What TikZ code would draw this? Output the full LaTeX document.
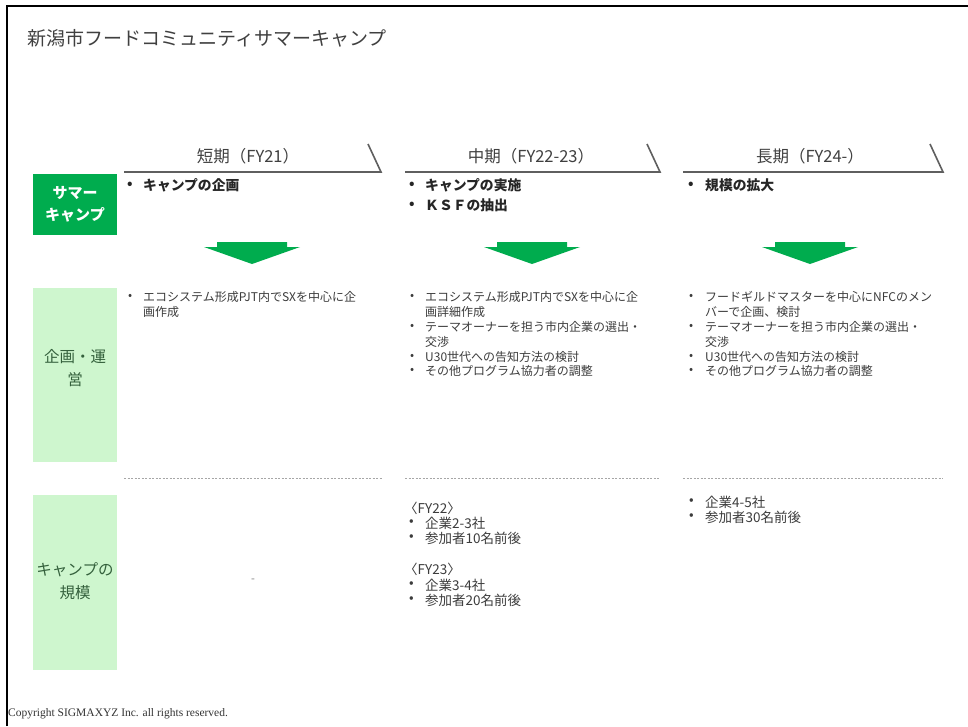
\documentclass[tikz,border=0pt]{standalone}
\usepackage{fontspec}
\newfontfamily\jp{Noto Sans CJK JP}
\newfontfamily\cpy{Liberation Serif}
\definecolor{dgreen}{RGB}{0,172,78}
\definecolor{lgreen}{RGB}{206,246,206}
\definecolor{lgtext}{RGB}{52,96,60}
\definecolor{bodygray}{RGB}{60,60,60}
\definecolor{headgray}{RGB}{64,64,64}
\definecolor{rulegray}{RGB}{95,95,95}
\tikzset{
  body/.style={anchor=west,inner sep=0pt,font=\jp\fontsize{12}{14}\selectfont,text=bodygray},
  scl/.style={anchor=west,inner sep=0pt,font=\jp\fontsize{13.5}{15}\selectfont,text=bodygray},
  bold/.style={anchor=west,inner sep=0pt,font=\jp\bfseries\fontsize{13.8}{15}\selectfont,text=black!85},
  head/.style={inner sep=0pt,font=\jp\fontsize{16.5}{18}\selectfont,text=headgray},
  hrule/.style={draw=rulegray,line width=1.6pt},
  dash rule/.style={draw=gray!70,dashed,line width=0.7pt,dash pattern=on 2pt off 1.5pt},
  darkbox/.style={fill=dgreen,draw=none},
  lightbox/.style={fill=lgreen,draw=none},
  boxtext/.style={inner sep=0pt,align=center,font=\jp\fontsize{15.5}{23}\selectfont,text=lgtext},
  arrowfill/.style={fill=dgreen}
}
\newcommand{\greenarrow}[1]{%
  \fill[arrowfill] (#1-35,242) -- (#1+35,242) -- (#1+35,247) -- (#1+48,247)
    -- (#1,264) -- (#1-48,247) -- (#1-35,247) -- cycle;}
\begin{document}
\begin{tikzpicture}[x=1pt,y=-1pt]
\useasboundingbox (0,0) rectangle (968,726);
\fill[white] (0,0) rectangle (968,726);
% frame
\draw[line width=1.6pt,black] (7,726) -- (7,6) -- (968,6);
% title
\node[anchor=west,inner sep=0pt,font=\jp\fontsize{19}{21}\selectfont,text=headgray] (title) at (27,38) {新潟市フードコミュニティサマーキャンプ};
% headers
\node[head] (h1) at (248,156) {短期（FY21）};
\node[head] (h2) at (531,156) {中期（FY22-23）};
\node[head] (h3) at (810,156) {長期（FY24-）};
\draw[hrule] (124,172) -- (381,172) -- (368,144);
\draw[hrule] (405,172) -- (660,172) -- (647,144);
\draw[hrule] (683,172) -- (943,172) -- (930,144);
% left boxes
\fill[darkbox] (33,174) rectangle (117,235);
\node[boxtext,text=white,font=\jp\bfseries\fontsize{15}{22}\selectfont] (lb1) at (75,204.5) {サマー\\キャンプ};
\fill[lightbox] (33,288) rectangle (117,462);
\node[boxtext] (lb2) at (75,368) {企画・運\\営};
\fill[lightbox] (33,495) rectangle (117,670);
\node[boxtext] (lb3) at (75,581) {キャンプの\\規模};
% bold items
\node[bold] (s1b) at (127,185) {•};
\node[bold] (s1) at (143,185) {キャンプの企画};
\node[bold] (s2b) at (409,185) {•};
\node[bold] (s2) at (425,185) {キャンプの実施};
\node[bold] (s3b) at (409,205) {•};
\node[bold] (s3) at (425,205) {ＫＳＦの抽出};
\node[bold] (s4b) at (688,185) {•};
\node[bold] (s4) at (705,185) {規模の拡大};
% arrows
\greenarrow{252}
\greenarrow{532}
\greenarrow{810}
% planning column 1
\node[body] (p1b) at (128,297) {•};
\node[body] (p1) at (143,297) {エコシステム形成PJT内でSXを中心に企};
\node[body] (p1c) at (143,312) {画作成};
% planning column 2
\node[body] (q1b) at (410,297) {•};
\node[body] (q1) at (425,297) {エコシステム形成PJT内でSXを中心に企};
\node[body] (q1c) at (425,312) {画詳細作成};
\node[body] (q2b) at (410,327) {•};
\node[body] (q2) at (425,327) {テーマオーナーを担う市内企業の選出・};
\node[body] (q2c) at (425,342) {交渉};
\node[body] (q3b) at (410,357) {•};
\node[body] (q3) at (425,357) {U30世代への告知方法の検討};
\node[body] (q4b) at (410,371) {•};
\node[body] (q4) at (425,371) {その他プログラム協力者の調整};
% planning column 3
\node[body] (r1b) at (689,297) {•};
\node[body] (r1) at (705,297) {フードギルドマスターを中心にNFCのメン};
\node[body] (r1c) at (705,312) {バーで企画、検討};
\node[body] (r2b) at (689,327) {•};
\node[body] (r2) at (705,327) {テーマオーナーを担う市内企業の選出・};
\node[body] (r2c) at (705,342) {交渉};
\node[body] (r3b) at (689,357) {•};
\node[body] (r3) at (705,357) {U30世代への告知方法の検討};
\node[body] (r4b) at (689,371) {•};
\node[body] (r4) at (705,371) {その他プログラム協力者の調整};
% dashed separators
\draw[dash rule] (124,478) -- (382,478);
\draw[dash rule] (405,478) -- (660,478);
\draw[dash rule] (683,478) -- (943,478);
% scale column 1
\node[inner sep=0pt,font=\jp\fontsize{11}{12}\selectfont,text=gray] (dash1) at (253,581) {-};
% scale column 2
\node[scl] (t0) at (404,508) {〈FY22〉};
\node[scl] (t1b) at (409,523) {•};
\node[scl] (t1) at (425,523) {企業2-3社};
\node[scl] (t2b) at (409,538) {•};
\node[scl] (t2) at (425,538) {参加者10名前後};
\node[scl] (u0) at (404,569) {〈FY23〉};
\node[scl] (u1b) at (409,585) {•};
\node[scl] (u1) at (425,585) {企業3-4社};
\node[scl] (u2b) at (409,600) {•};
\node[scl] (u2) at (425,600) {参加者20名前後};
% scale column 3
\node[scl] (v1b) at (689,502) {•};
\node[scl] (v1) at (705,502) {企業4-5社};
\node[scl] (v2b) at (689,517) {•};
\node[scl] (v2) at (705,517) {参加者30名前後};
% copyright
\node[anchor=west,inner sep=0pt,font=\cpy\fontsize{11.5}{13}\selectfont,text=black!80] (copy) at (8,714) {Copyright SIGMAXYZ Inc. all rights reserved.};
\end{tikzpicture}
\end{document}
